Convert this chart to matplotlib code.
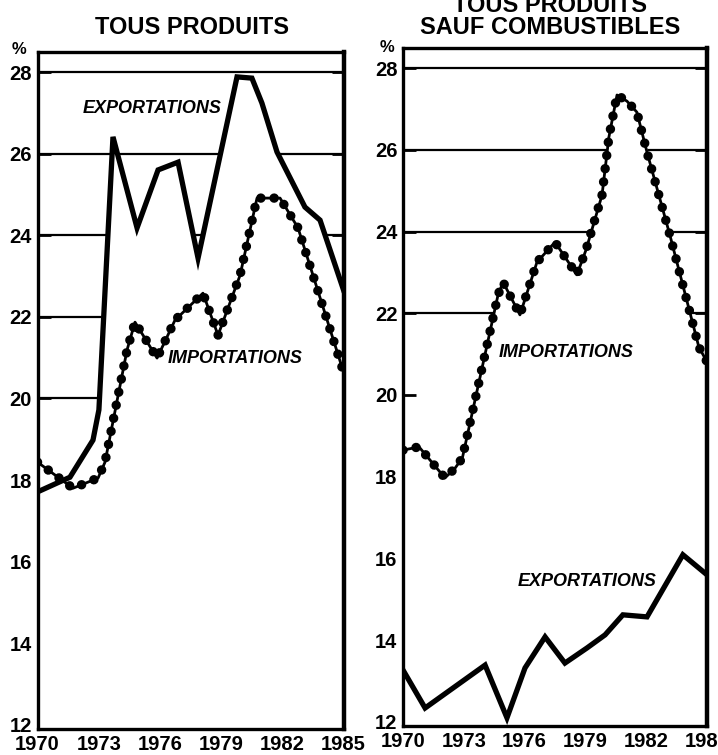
import numpy as np
import matplotlib.pyplot as plt

# ---- data (years, % share) ----
# left panel : tous produits
exp_all_x = [1970.0, 1971.59, 1972.72, 1973.01, 1973.70, 1974.88, 1975.91, 1976.89, 1977.87,
             1979.78, 1980.51, 1981.0, 1981.74, 1983.11, 1983.85, 1985.0]
exp_all_y = [17.71, 18.07, 18.98, 19.72, 26.41, 24.18, 25.60, 25.79, 23.44,
             27.88, 27.85, 27.24, 26.04, 24.69, 24.37, 22.66]
imp_all_x = [1970.0, 1971.74, 1972.97, 1973.31, 1974.39, 1974.78, 1975.86, 1976.74, 1978.11,
             1978.85, 1979.93, 1980.76, 1981.89, 1982.77, 1985.0]
imp_all_y = [18.44, 17.80, 18.05, 18.44, 21.19, 21.87, 20.99, 21.92, 22.58,
             21.55, 23.02, 24.91, 24.91, 24.18, 20.65]

# right panel : tous produits sauf combustibles
imp_nf_x = [1970.0, 1970.79, 1972.07, 1972.57, 1972.93, 1974.69, 1974.94, 1975.77, 1976.61,
            1977.50, 1978.58, 1979.03, 1979.82, 1980.16, 1980.56, 1981.05, 1981.54,
            1982.04, 1983.17, 1984.60, 1985.0]
imp_nf_y = [18.65, 18.73, 17.97, 18.21, 18.46, 22.45, 22.76, 21.96, 23.25,
            23.74, 22.94, 23.55, 24.89, 26.31, 27.34, 27.19, 26.92,
            25.94, 23.91, 21.17, 20.81]
exp_nf_x = [1970.0, 1971.09, 1974.05, 1975.13, 1976.02, 1977.01, 1977.99, 1979.08,
            1979.97, 1980.85, 1982.04, 1983.81, 1985.0]
exp_nf_y = [13.27, 12.34, 13.39, 12.10, 13.32, 14.08, 13.44, 13.81,
            14.13, 14.62, 14.57, 16.09, 15.60]

year_ticks = [1970, 1973, 1976, 1979, 1982, 1985]
pct_ticks = [12, 14, 16, 18, 20, 22, 24, 26, 28]

W, H = 718, 755
FONT = ['Liberation Sans', 'DejaVu Sans']

fig = plt.figure(figsize=(W / 100, H / 100), dpi=100)


def px(x, y):
    return x / W, 1 - y / H


def setup(ax, grid_levels):
    ax.set_xlim(1970, 1985)
    ax.set_ylim(11.9, 28.5)
    ax.set_xticks(year_ticks)
    ax.set_yticks(pct_ticks)
    ax.tick_params(axis='both', direction='in', length=9, width=2, right=True,
                   labelsize=14.5, pad=4)
    for lab in ax.get_xticklabels() + ax.get_yticklabels():
        lab.set_fontweight('bold')
        lab.set_family(FONT)
    for s in ax.spines.values():
        s.set_linewidth(2.4)
    ax.spines['right'].set_linewidth(3.2)
    for g in grid_levels:
        ax.axhline(g, color='black', lw=1.6, zorder=1)


def beads(ax, x, y):
    # dotted "string of beads" line
    ax.plot(x, y, color='black', lw=2.0, zorder=4)
    ax.plot(x, y, color='black', lw=6.8, linestyle=(0, (0.01, 1.4)),
            dash_capstyle='round', zorder=4)


# left panel
ax1 = fig.add_axes([37.5 / W, 1 - 729 / H, 306 / W, (729 - 51.6) / H])
setup(ax1, [20, 22, 24, 26, 28])
ax1.fill_between(exp_all_x, exp_all_y, 11, color='white', zorder=2)
ax1.fill_between(imp_all_x, imp_all_y, 11, color='white', zorder=2)
ax1.plot(exp_all_x, exp_all_y, color='black', lw=3.8, solid_joinstyle='miter', zorder=5)
beads(ax1, imp_all_x, imp_all_y)
ax1.text(1975.6, 27.1, 'EXPORTATIONS', ha='center', va='center', fontsize=13,
         fontweight='bold', style='italic', family=FONT, zorder=6)
ax1.text(1979.7, 20.97, 'IMPORTATIONS', ha='center', va='center', fontsize=13,
         fontweight='bold', style='italic', family=FONT, zorder=6)

# right panel
ax2 = fig.add_axes([403 / W, 1 - 726 / H, 304 / W, (726 - 47.6) / H])
setup(ax2, [22, 24, 26, 28])
ax2.fill_between(imp_nf_x, imp_nf_y, 11, color='white', zorder=2)
ax2.plot(exp_nf_x, exp_nf_y, color='black', lw=3.8, solid_joinstyle='miter', zorder=5)
beads(ax2, imp_nf_x, imp_nf_y)
ax2.text(1978.04, 21.05, 'IMPORTATIONS', ha='center', va='center', fontsize=13,
         fontweight='bold', style='italic', family=FONT, zorder=6)
ax2.text(1979.08, 15.43, 'EXPORTATIONS', ha='center', va='center', fontsize=13,
         fontweight='bold', style='italic', family=FONT, zorder=6)

# titles and unit marks
fig.text(*px(192, 28), 'TOUS PRODUITS', ha='center', va='center', fontsize=17,
         fontweight='bold', family=FONT)
fig.text(*px(550, 5), 'TOUS PRODUITS', ha='center', va='center', fontsize=17,
         fontweight='bold', family=FONT)
fig.text(*px(550, 27), 'SAUF COMBUSTIBLES', ha='center', va='center', fontsize=17,
         fontweight='bold', family=FONT)
fig.text(*px(19, 50), '%', ha='center', va='center', fontsize=12,
         fontweight='bold', family=FONT)
fig.text(*px(387, 47), '%', ha='center', va='center', fontsize=12,
         fontweight='bold', family=FONT)

plt.savefig('out.png', dpi=100)
